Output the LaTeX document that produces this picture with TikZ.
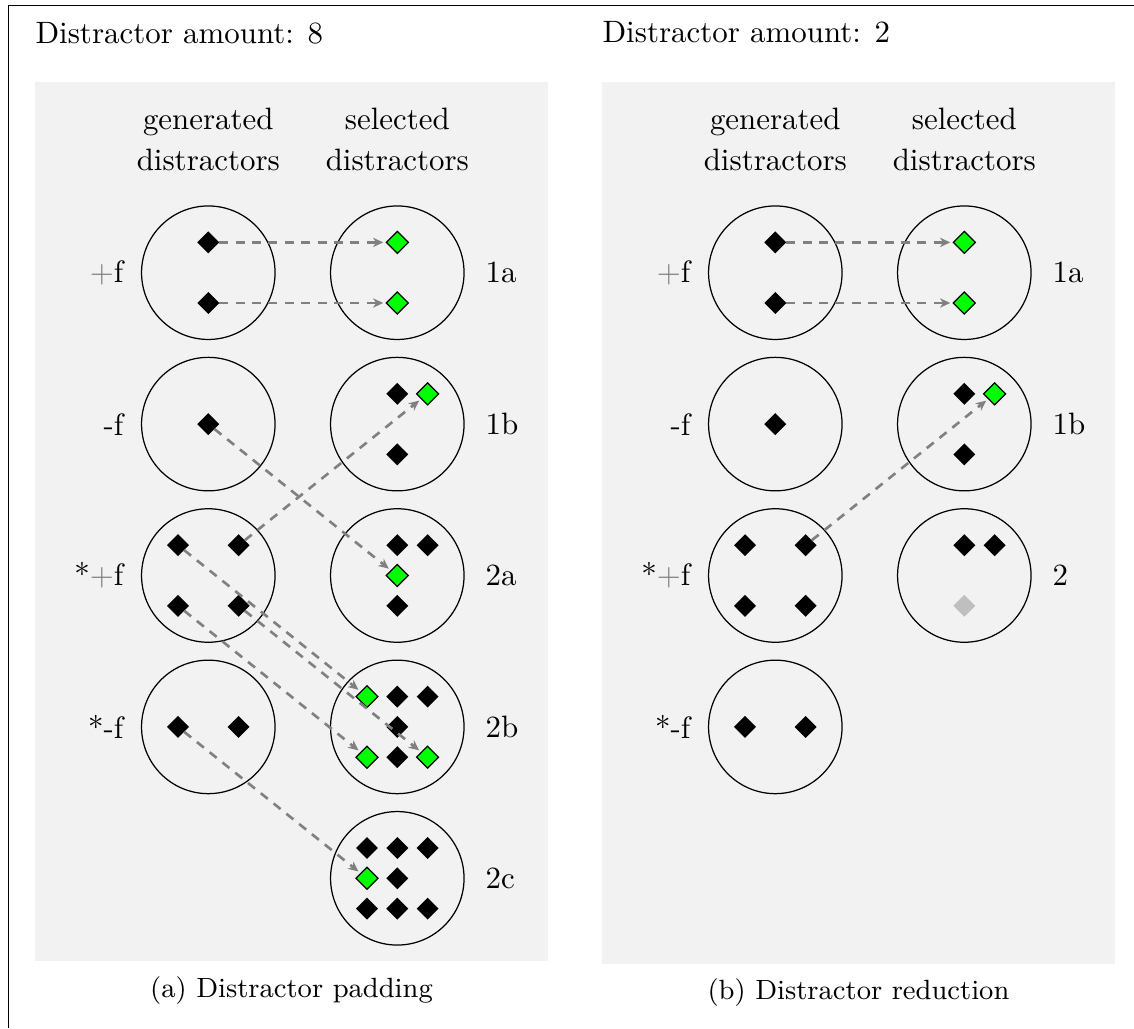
\documentclass[tikz,border=0pt]{standalone}
\usetikzlibrary{shapes.geometric,arrows.meta}

\tikzset{
  panel/.style={fill=black!5,draw=none},
  setc/.style={circle,draw=black,line width=0.4pt,minimum size=43.2pt,inner sep=0pt,outer sep=0pt},
  dia/.style={diamond,aspect=1,inner sep=0pt,outer sep=0pt,minimum size=7.1pt},
  blk/.style={dia,fill=black},
  grn/.style={dia,fill=green,draw=black,line width=0.4pt},
  faded/.style={dia,fill=lightgray},
  pick/.style={draw=gray,line width=0.85pt,dash pattern=on 2.9pt off 2.4pt,shorten >=1pt,
    -{Stealth[length=3.3pt,width=3pt,inset=1pt]}},
  rowlbl/.style={anchor=east,inner sep=0pt},
  idlbl/.style={anchor=west,inner sep=0pt},
  hdr/.style={anchor=base,inner sep=0pt},
  ttl/.style={anchor=base west,inner sep=0pt},
  captxt/.style={anchor=base,inner sep=0pt,font=\small},
}

\begin{document}
\begin{tikzpicture}[x=0.3236pt,y=-0.3236pt]
\useasboundingbox (0,0) rectangle (1134,1028);

% outer frame
\draw[line width=0.35pt] (8.5,1028) -- (8.5,5.5) -- (1134,5.5);

% titles
\node[ttl] (ta) at (35,44) {Distractor amount: 8};
\node[ttl] (tb) at (602,43) {Distractor amount: 2};

% panels
\fill[panel] (35,82) rectangle (548,961);
\fill[panel] (602,82) rectangle (1115,964);

% column headers
\node[hdr] (ha1) at (208.3,130) {generated};
\node[hdr] (ha2) at (208.3,170) {distractors};
\node[hdr] (ha3) at (397.3,130) {selected};
\node[hdr] (ha4) at (397.3,170) {distractors};
\node[hdr] (hb1) at (775.3,130) {generated};
\node[hdr] (hb2) at (775.3,170) {distractors};
\node[hdr] (hb3) at (964.3,130) {selected};
\node[hdr] (hb4) at (964.3,170) {distractors};

% ---------- (a) distractor padding ----------
\node[setc] (ag1) at (208.3,272.7) {};
\node[setc] (ag2) at (208.3,424.1) {};
\node[setc] (ag3) at (208.3,575.5) {};
\node[setc] (ag4) at (208.3,726.9) {};
\node[setc] (as1) at (397.3,272.7) {};
\node[setc] (as2) at (397.3,424.1) {};
\node[setc] (as3) at (397.3,575.5) {};
\node[setc] (as4) at (397.3,726.9) {};
\node[setc] (as5) at (397.3,878.3) {};

\node[rowlbl] (la1) at (124,272.7) {{\color{gray}+}f};
\node[rowlbl] (la2) at (124,424.1) {-f};
\node[rowlbl] (la3) at (124,575.5) {*{\color{gray}+}f};
\node[rowlbl] (la4) at (124,726.9) {*-f};
\node[idlbl] (ia1) at (485,272.7) {1a};
\node[idlbl] (ia2) at (485,424.1) {1b};
\node[idlbl] (ia3) at (485,575.5) {2a};
\node[idlbl] (ia4) at (485,726.9) {2b};
\node[idlbl] (ia5) at (485,878.3) {2c};

% generated distractors
\node[blk] (ag1a) at (208.3,242.4) {};
\node[blk] (ag1b) at (208.3,303.0) {};
\node[blk] (ag2a) at (208.3,424.1) {};
\node[blk] (ag3a) at (178.0,545.2) {};
\node[blk] (ag3b) at (238.6,545.2) {};
\node[blk] (ag3c) at (178.0,605.8) {};
\node[blk] (ag3d) at (238.6,605.8) {};
\node[blk] (ag4a) at (178.0,726.9) {};
\node[blk] (ag4b) at (238.6,726.9) {};

% selected distractors
\node[grn] (as1a) at (397.3,242.4) {};
\node[grn] (as1b) at (397.3,303.0) {};
\node[blk] (as2a) at (397.3,393.8) {};
\node[grn] (as2g) at (427.6,393.8) {};
\node[blk] (as2b) at (397.3,454.4) {};
\node[blk] (as3a) at (397.3,545.2) {};
\node[blk] (as3b) at (427.6,545.2) {};
\node[grn] (as3g) at (397.3,575.5) {};
\node[blk] (as3c) at (397.3,605.8) {};
\node[grn] (as4g1) at (367.0,696.6) {};
\node[blk] (as4a) at (397.3,696.6) {};
\node[blk] (as4b) at (427.6,696.6) {};
\node[blk] (as4c) at (397.3,726.9) {};
\node[grn] (as4g2) at (367.0,757.2) {};
\node[blk] (as4d) at (397.3,757.2) {};
\node[grn] (as4g3) at (427.6,757.2) {};
\node[blk] (as5a) at (367.0,848.0) {};
\node[blk] (as5b) at (397.3,848.0) {};
\node[blk] (as5c) at (427.6,848.0) {};
\node[grn] (as5g) at (367.0,878.3) {};
\node[blk] (as5d) at (397.3,878.3) {};
\node[blk] (as5e) at (367.0,908.6) {};
\node[blk] (as5f) at (397.3,908.6) {};
\node[blk] (as5h) at (427.6,908.6) {};

% selections
\draw[pick] (ag1a) -- (as1a);
\draw[pick] (ag1b) -- (as1b);
\draw[pick] (ag2a) -- (as3g);
\draw[pick] (ag3b) -- (as2g);
\draw[pick] (ag3a) -- (as4g1);
\draw[pick] (ag3c) -- (as4g2);
\draw[pick] (ag3d) -- (as4g3);
\draw[pick] (ag4a) -- (as5g);

\node[captxt] (capa) at (291.5,997) {(a) Distractor padding};

% ---------- (b) distractor reduction ----------
\node[setc] (bg1) at (775.3,272.7) {};
\node[setc] (bg2) at (775.3,424.1) {};
\node[setc] (bg3) at (775.3,575.5) {};
\node[setc] (bg4) at (775.3,726.9) {};
\node[setc] (bs1) at (964.3,272.7) {};
\node[setc] (bs2) at (964.3,424.1) {};
\node[setc] (bs3) at (964.3,575.5) {};

\node[rowlbl] (lb1) at (691,272.7) {{\color{gray}+}f};
\node[rowlbl] (lb2) at (691,424.1) {-f};
\node[rowlbl] (lb3) at (691,575.5) {*{\color{gray}+}f};
\node[rowlbl] (lb4) at (691,726.9) {*-f};
\node[idlbl] (ib1) at (1052,272.7) {1a};
\node[idlbl] (ib2) at (1052,424.1) {1b};
\node[idlbl] (ib3) at (1052,575.5) {2};

\node[blk] (bg1a) at (775.3,242.4) {};
\node[blk] (bg1b) at (775.3,303.0) {};
\node[blk] (bg2a) at (775.3,424.1) {};
\node[blk] (bg3a) at (745.0,545.2) {};
\node[blk] (bg3b) at (805.6,545.2) {};
\node[blk] (bg3c) at (745.0,605.8) {};
\node[blk] (bg3d) at (805.6,605.8) {};
\node[blk] (bg4a) at (745.0,726.9) {};
\node[blk] (bg4b) at (805.6,726.9) {};

\node[grn] (bs1a) at (964.3,242.4) {};
\node[grn] (bs1b) at (964.3,303.0) {};
\node[blk] (bs2a) at (964.3,393.8) {};
\node[grn] (bs2g) at (994.6,393.8) {};
\node[blk] (bs2b) at (964.3,454.4) {};
\node[blk] (bs3a) at (964.3,545.2) {};
\node[blk] (bs3b) at (994.6,545.2) {};
\node[faded] (bs3c) at (964.3,605.8) {};

\draw[pick] (bg1a) -- (bs1a);
\draw[pick] (bg1b) -- (bs1b);
\draw[pick] (bg3b) -- (bs2g);

\node[captxt] (capb) at (858.5,999) {(b) Distractor reduction};
\end{tikzpicture}
\end{document}
